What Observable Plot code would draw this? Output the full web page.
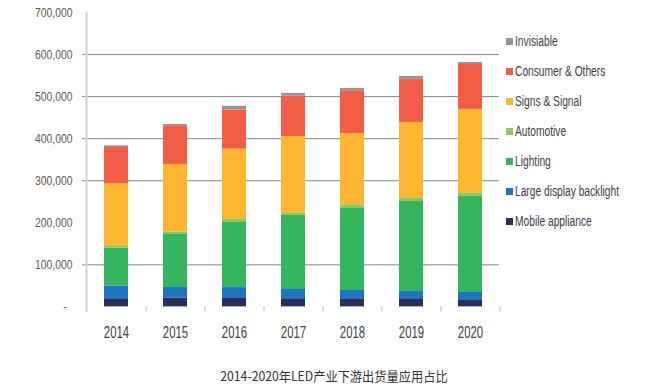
<!DOCTYPE html>
<html>
<head>
<meta charset="utf-8">
<script src="https://cdn.jsdelivr.net/npm/d3@7"></script>
<script src="https://cdn.jsdelivr.net/npm/@observablehq/plot@0.6"></script>
<style>
  html, body { margin: 0; padding: 0; background: #fff; }
  #wrap { position: relative; width: 655px; height: 387px; overflow: hidden; }
  #legend { position: absolute; left: 506px; top: 33px; font-family: "Liberation Sans", Arial, sans-serif; font-size: 14px; color: #404040; }
  .item { height: 30px; display: flex; align-items: flex-start; line-height: 17px; }
  .sw { width: 7px; height: 7px; margin-top: 5px; margin-right: 2px; flex: none; }
  .lbl { display: inline-block; transform: scaleX(0.73); transform-origin: 0 50%; white-space: nowrap; }
  #caption { position: absolute; left: 0; width: 668px; top: 367px; text-align: center; font-family: "Noto Sans CJK SC", sans-serif; font-size: 13px; line-height: 18px; color: #333; }
  #caption span { display: inline-block; transform: scaleX(0.94); }
</style>
</head>
<body>
<div id="wrap">
  <div id="chart"></div>
  <div id="legend"></div>
  <div id="caption"><span>2014-2020年LED产业下游出货量应用占比</span></div>
</div>
<script>
const years = ["2014", "2015", "2016", "2017", "2018", "2019", "2020"];
const series = ["Mobile appliance", "Large display backlight", "Lighting", "Automotive", "Signs & Signal", "Consumer & Others", "Invisiable"];
const colors = ["#2c2e5a", "#1f74bd", "#35b55e", "#8dc665", "#fdb632", "#f25d48", "#959595"];

const mobile     = [17600, 20700, 20000, 17600, 17600, 17600, 15200];
const largeDisp  = [31600, 25400, 26000, 23800, 21400, 19100, 19100];
const lighting   = [90400, 126100, 154700, 176000, 195000, 214000, 228400];
const automotive = [4000, 5500, 7000, 4800, 7200, 7200, 7100];
const signs      = [149800, 161000, 167500, 183000, 171200, 180700, 199800];
const consumer   = [85500, 92000, 93000, 96000, 100000, 102400, 106800];
const invisible  = [4000, 3000, 8700, 6400, 7200, 7000, 4800];

const yTicks = [0, 100000, 200000, 300000, 400000, 500000, 600000, 700000];
const gridValues = [100000, 300000, 400000, 500000, 600000];

const seriesValues = [mobile, largeDisp, lighting, automotive, signs, consumer, invisible];
const rows = [];
series.forEach((s, i) => years.forEach((y, j) => rows.push({year: y, series: s, value: seriesValues[i][j]})));

const W = 655, H = 350, ML = 86, MR = 156;
const step = (W - ML - MR) / years.length;

const chart = Plot.plot({
  width: W,
  height: H,
  marginLeft: ML,
  marginRight: MR,
  marginTop: 12,
  marginBottom: 43.6,
  style: {fontFamily: '"Liberation Sans", Arial, sans-serif', background: "white"},
  x: {domain: years, paddingInner: 0.6, paddingOuter: 0.3},
  y: {domain: [0, 700000]},
  color: {domain: series, range: colors},
  marks: [
    Plot.ruleY(gridValues, {stroke: "#878787", strokeWidth: 1, insetLeft: -4}),
    Plot.frame({anchor: "left", stroke: "#d6d6d6", strokeWidth: 2, insetBottom: -4}),
    Plot.barY(rows, {x: "year", y: "value", fill: "series", order: series}),
    Plot.ruleX(years, {x: d => d, y1: 0, y2: 0, dx: step / 2, insetBottom: -5, stroke: "#b4b4b4"}),
    Plot.axisY({ticks: yTicks, tickSize: 0, tickPadding: 14, tickFormat: d => d === 0 ? "-\u00a0\u00a0" : d3.format(",")(d), fontSize: 13, fill: "#595959", label: null}),
    Plot.axisX({tickSize: 0, tickPadding: 20, fontSize: 16, fill: "#404040", label: null})
  ]
});
document.getElementById("chart").appendChild(chart);

// condense axis label glyphs horizontally (narrow font look)
function condense(sel, k) {
  chart.querySelectorAll(sel).forEach(t => {
    const tr = t.getAttribute("transform");
    if (tr) t.setAttribute("transform", tr + ` scale(${k},1)`);
    else {
      const len = t.getComputedTextLength();
      t.setAttribute("textLength", len * k);
      t.setAttribute("lengthAdjust", "spacingAndGlyphs");
    }
  });
}
condense('g[aria-label="y-axis tick label"] text', 0.8);
condense('g[aria-label="x-axis tick label"] text', 0.71);

const legend = document.getElementById("legend");
for (let i = series.length - 1; i >= 0; i--) {
  const item = document.createElement("div");
  item.className = "item";
  const sw = document.createElement("span");
  sw.className = "sw";
  sw.style.background = colors[i];
  const t = document.createElement("span");
  t.className = "lbl";
  t.textContent = series[i];
  item.appendChild(sw);
  item.appendChild(t);
  legend.appendChild(item);
}
</script>
</body>
</html>
